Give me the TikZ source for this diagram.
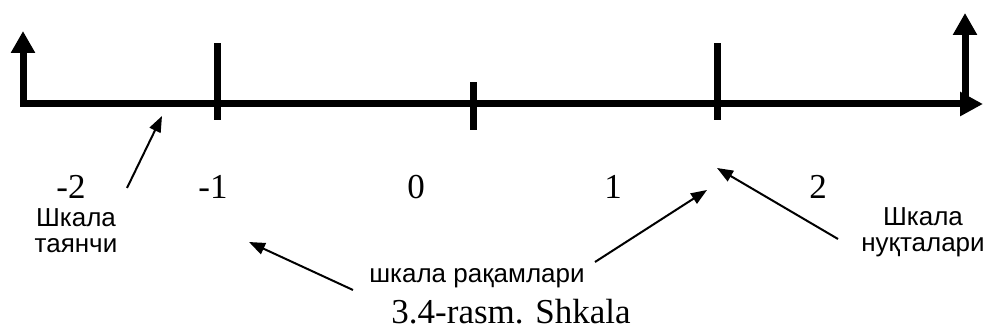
\documentclass[tikz,border=0pt]{standalone}
\usepackage{fontspec}
\setmainfont{Liberation Serif}
\setsansfont{Liberation Sans}
\usetikzlibrary{arrows.meta}
\tikzset{
  axisln/.style={line width=7pt,line join=miter},
  tickln/.style={line width=7pt},
  num/.style={inner sep=0pt,anchor=base,font=\fontsize{35}{35}\selectfont},
  note/.style={inner sep=0pt,align=center,font=\sffamily\fontsize{26}{26}\selectfont},
  ptr/.style={-{Triangle[length=16pt,width=12pt]},line width=2pt},
}
\begin{document}
\begin{tikzpicture}[x=1pt,y=1pt]
\useasboundingbox (0,0) rectangle (992,331);
% scale axis with its two end arrows
\coordinate (lt) at (23,300);
\coordinate (o) at (23,227);
\coordinate (ar) at (983,227);
\coordinate (rb) at (965,227);
\coordinate (rt) at (965,318);
\draw[axisln,{Triangle[length=22pt,width=23pt]}-{Triangle[length=23pt,width=23pt]}] (lt) -- (o) -- (ar);
\draw[axisln,-{Triangle[length=22pt,width=23pt]}] (rb) -- (rt);
\foreach \x/\lo/\hi in {217/211/288,473/201/249,717/211/288}
  \draw[tickln] (\x,\lo) -- (\x,\hi);
% numbers
\foreach \x/\t [count=\i] in {71/-2,213/-1,416/0,613/1,818/2}
  \node[num] (n\i) at (\x,132) {\t};
% notes
\node[note,anchor=north] (base) at (76,123) {Шкала\\таянчи};
\node[note,anchor=north] (pts) at (923,124) {Шкала\\нуқталари};
\node[note,anchor=base] (digs) at (477,48) {шкала рақамлари};
\node[num] (cap) at (511,7) {3.4-rasm. Shkala};
% pointers
\coordinate (s1) at (127,143); \coordinate (t1) at (162,215);
\coordinate (s2) at (353,41);  \coordinate (t2) at (249,89);
\coordinate (s3) at (595,69);  \coordinate (t3) at (707,141);
\coordinate (s4) at (838,92);  \coordinate (t4) at (717,163);
\draw[ptr] (s1) -- (t1);
\draw[ptr] (s2) -- (t2);
\draw[ptr] (s3) -- (t3);
\draw[ptr] (s4) -- (t4);
\end{tikzpicture}
\end{document}
